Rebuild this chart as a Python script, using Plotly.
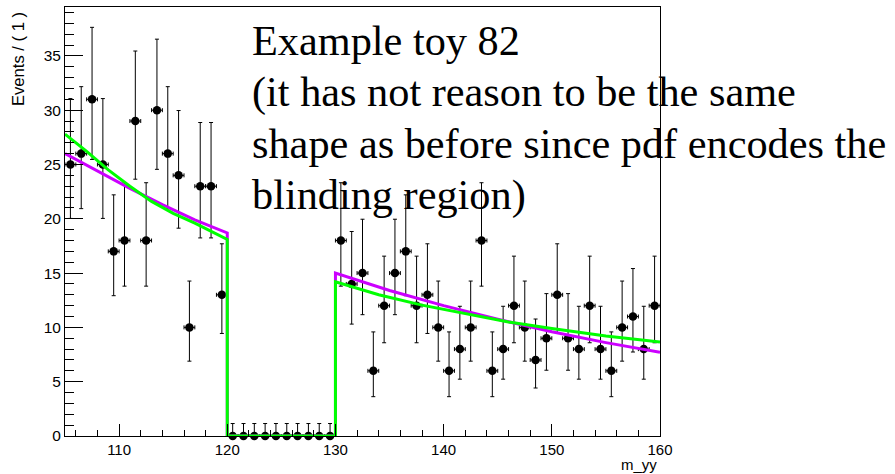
import math
import plotly.graph_objects as go

# Binned toy dataset: 1 GeV bins over m_yy in [105, 160], signal window 120-130 blinded
bin_lo = 105
bin_hi = 160
counts = [25, 26, 31, 25, 17, 18, 29, 18, 30, 26, 24, 10, 23, 23, 13,
          0, 0, 0, 0, 0, 0, 0, 0, 0, 0,
          18, 14, 15, 6, 12, 15, 17, 12, 13, 10,
          6, 8, 10, 18, 6, 8, 12, 10, 7, 9,
          13, 9, 8, 12, 8, 6, 10, 11, 8, 12]

# Fitted background shapes (sidebands only, zero inside the blinded window)
green_x = [105, 107, 109, 111, 113, 115, 117, 119, 120, 120, 130, 130, 134, 138, 142, 146, 150, 155, 160]
green_y = [27.8, 26.2, 24.5, 23.0, 21.6, 20.5, 19.6, 18.6, 18.1, 0, 0, 14.2, 13.0, 12.05, 11.25, 10.5, 9.9, 9.2, 8.65]

magenta_x = [105, 108, 111, 114, 117, 120, 120, 130, 130, 135, 140, 145, 150, 155, 160]
magenta_y = [26.0, 24.4, 22.8, 21.3, 19.9, 18.7, 0, 0, 15.0, 13.4, 12.0, 10.75, 9.6, 8.6, 7.7]

x_ticks = [110, 120, 130, 140, 150, 160]
y_ticks = [0, 5, 10, 15, 20, 25, 30, 35]

note_lines = ["Example toy 82",
              "(it has not reason to be the same",
              "shape as before since pdf encodes the",
              "blinding region)"]

CL = 0.682689


def pois_cdf(n, mu):
    term = math.exp(-mu)
    s = term
    for k in range(1, n + 1):
        term *= mu / k
        s += term
    return s


def solve(f, target, lo, hi, increasing):
    for _ in range(200):
        mid = 0.5 * (lo + hi)
        v = f(mid)
        if (v < target) == increasing:
            lo = mid
        else:
            hi = mid
    return 0.5 * (lo + hi)


def poisson_interval(n):
    if n == 0:
        return 0.0, -math.log(1.0 - CL)
    a = (1.0 - CL) / 2.0
    lo = solve(lambda mu: 1.0 - pois_cdf(n - 1, mu), a, 0.0, n + 10.0, True)
    hi = solve(lambda mu: pois_cdf(n, mu), a, n, n + 10.0 * math.sqrt(n) + 10, False)
    return lo, hi


centers = [bin_lo + 0.5 + i for i in range(len(counts))]
err_lo, err_hi = [], []
for n in counts:
    lo, hi = poisson_interval(n)
    err_lo.append(n - lo)
    err_hi.append(hi - n)

fig = go.Figure()

fig.add_trace(go.Scatter(
    x=centers, y=counts, mode="markers",
    marker=dict(color="black", size=8.5, symbol="circle"),
    error_y=dict(type="data", symmetric=False, array=err_hi, arrayminus=err_lo,
                 color="black", thickness=1, width=2),
    error_x=dict(type="data", array=[0.5] * len(counts), color="black",
                 thickness=1, width=2),
    cliponaxis=False, showlegend=False,
))

fig.add_trace(go.Scatter(
    x=magenta_x, y=magenta_y, mode="lines",
    line=dict(color="#cc00ff", width=3), showlegend=False,
))
fig.add_trace(go.Scatter(
    x=green_x, y=green_y, mode="lines",
    line=dict(color="#00ff00", width=3), showlegend=False,
))

# Frame geometry in pixels
L, R, T, B = 65, 660, 7, 436
W, H = 895, 474


def px(xp):
    return (xp - L) / (R - L)


def py(yp):
    return (B - yp) / (B - T)


annotations = []
line_centres = [41, 92, 144, 195]
for text, yc in zip(note_lines, line_centres):
    annotations.append(dict(
        text=text, xref="paper", yref="paper", x=px(250), y=py(yc),
        xanchor="left", yanchor="middle", showarrow=False,
        font=dict(family="Liberation Serif", size=42.3, color="black"),
    ))

annotations.append(dict(
    text="Events / ( 1 )", xref="paper", yref="paper", x=px(18.5), y=py(59.5),
    xanchor="center", yanchor="middle", textangle=-90, showarrow=False,
    font=dict(family="Liberation Sans", size=16.6, color="black"),
))
annotations.append(dict(
    text="m_yy", xref="paper", yref="paper", x=px(657.5), y=py(474),
    xanchor="right", yanchor="bottom", showarrow=False, borderpad=0,
    font=dict(family="Liberation Sans", size=15, color="black"),
))

fig.update_layout(
    width=W, height=H,
    margin=dict(l=L, r=W - R, t=T, b=H - B),
    paper_bgcolor="white", plot_bgcolor="white",
    annotations=annotations,
    xaxis=dict(
        range=[bin_lo, bin_hi], tickvals=x_ticks, ticks="inside", ticklen=12,
        tickcolor="black", tickwidth=1, showline=True, linecolor="black",
        linewidth=1, mirror=True, showgrid=False, zeroline=False,
        tickfont=dict(family="Liberation Sans", size=15, color="black"),
        minor=dict(dtick=2, tick0=0, ticks="inside", ticklen=6,
                   tickcolor="black", showgrid=False),
    ),
    yaxis=dict(
        range=[0, 39.5], tickvals=y_ticks, ticks="inside", ticklen=18,
        tickcolor="black", tickwidth=1, showline=True, linecolor="black",
        linewidth=1, mirror=True, showgrid=False, zeroline=False,
        tickfont=dict(family="Liberation Sans", size=15.5, color="black"),
        minor=dict(dtick=1, tick0=0, ticks="inside", ticklen=9,
                   tickcolor="black", showgrid=False),
    ),
)

fig.write_html("out.html")
